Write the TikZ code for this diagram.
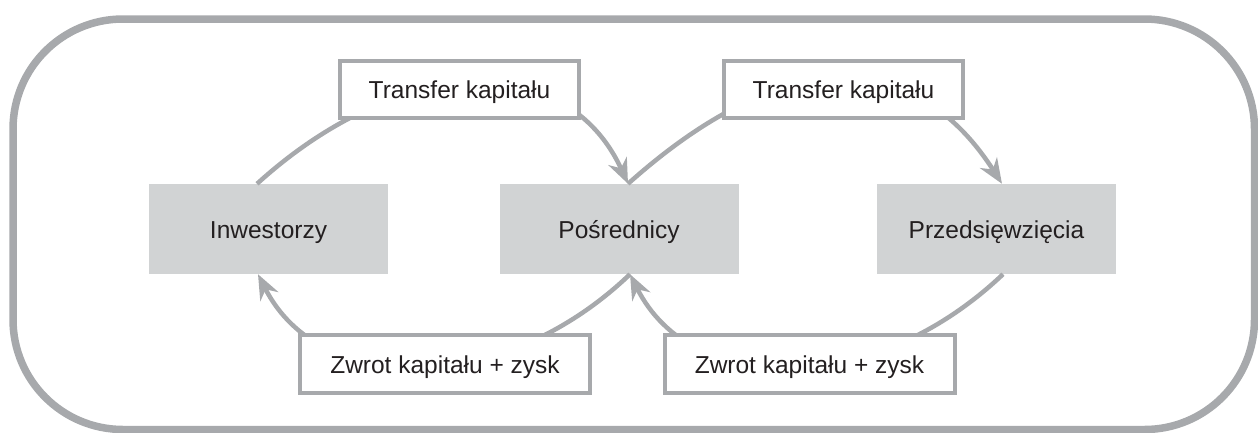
\documentclass[tikz,border=0pt]{standalone}
\usepackage{fontspec}
\setmainfont{Liberation Sans}
\usetikzlibrary{arrows.meta}
\definecolor{framegray}{HTML}{A7A9AC}
\definecolor{boxgray}{HTML}{D1D3D4}
\definecolor{txt}{HTML}{231F20}
\begin{document}
\begin{tikzpicture}[x=1pt,y=-1pt,
  entity/.style={fill=boxgray, minimum width=239pt, minimum height=90pt, inner sep=0pt,
    text height=18pt, text depth=0pt,
    font=\fontsize{24.5}{29}\selectfont, text=txt},
  flowlabel/.style={draw=framegray, line width=4pt, fill=white, inner sep=0pt,
    text height=18pt, text depth=0pt,
    font=\fontsize{24.5}{29}\selectfont, text=txt},
  toplabel/.style={flowlabel, minimum width=239pt, minimum height=57pt},
  botlabel/.style={flowlabel, minimum width=290pt, minimum height=58pt},
  flow/.style={draw=framegray, line width=4.5pt, -{Stealth[length=25pt,width=20pt,inset=8pt]}}
]
\useasboundingbox (0,0) rectangle (1258,432);
\draw[framegray, line width=7.5pt, rounded corners=110pt] (13,19) rectangle (1254.5,429.5);

\node[entity] (inv) at (268.5,229) {Inwestorzy};
\node[entity] (pos) at (619,229) {Pośrednicy};
\node[entity] (prz) at (996.5,229) {Przedsięwzięcia};

\draw[flow] ([xshift=-11.5pt]inv.north) .. controls (401,53) and (567,50) .. ([xshift=9pt]pos.north);
\draw[flow] ([xshift=9pt]pos.north) .. controls (792,37) and (919,54) .. ([xshift=5.5pt]prz.north);
\draw[flow] ([xshift=6.5pt]prz.south) .. controls (873,398) and (692,398) .. ([xshift=11pt]pos.south);
\draw[flow] ([xshift=11pt]pos.south) .. controls (502,397) and (320,397) .. ([xshift=-10.5pt]inv.south);

\node[toplabel] (t1) at (459.5,89.5) {Transfer kapitału};
\node[toplabel] (t2) at (843.5,89.5) {Transfer kapitału};
\node[botlabel] (z1) at (445,364) {Zwrot kapitału + zysk};
\node[botlabel] (z2) at (809.5,364) {Zwrot kapitału + zysk};
\end{tikzpicture}
\end{document}
